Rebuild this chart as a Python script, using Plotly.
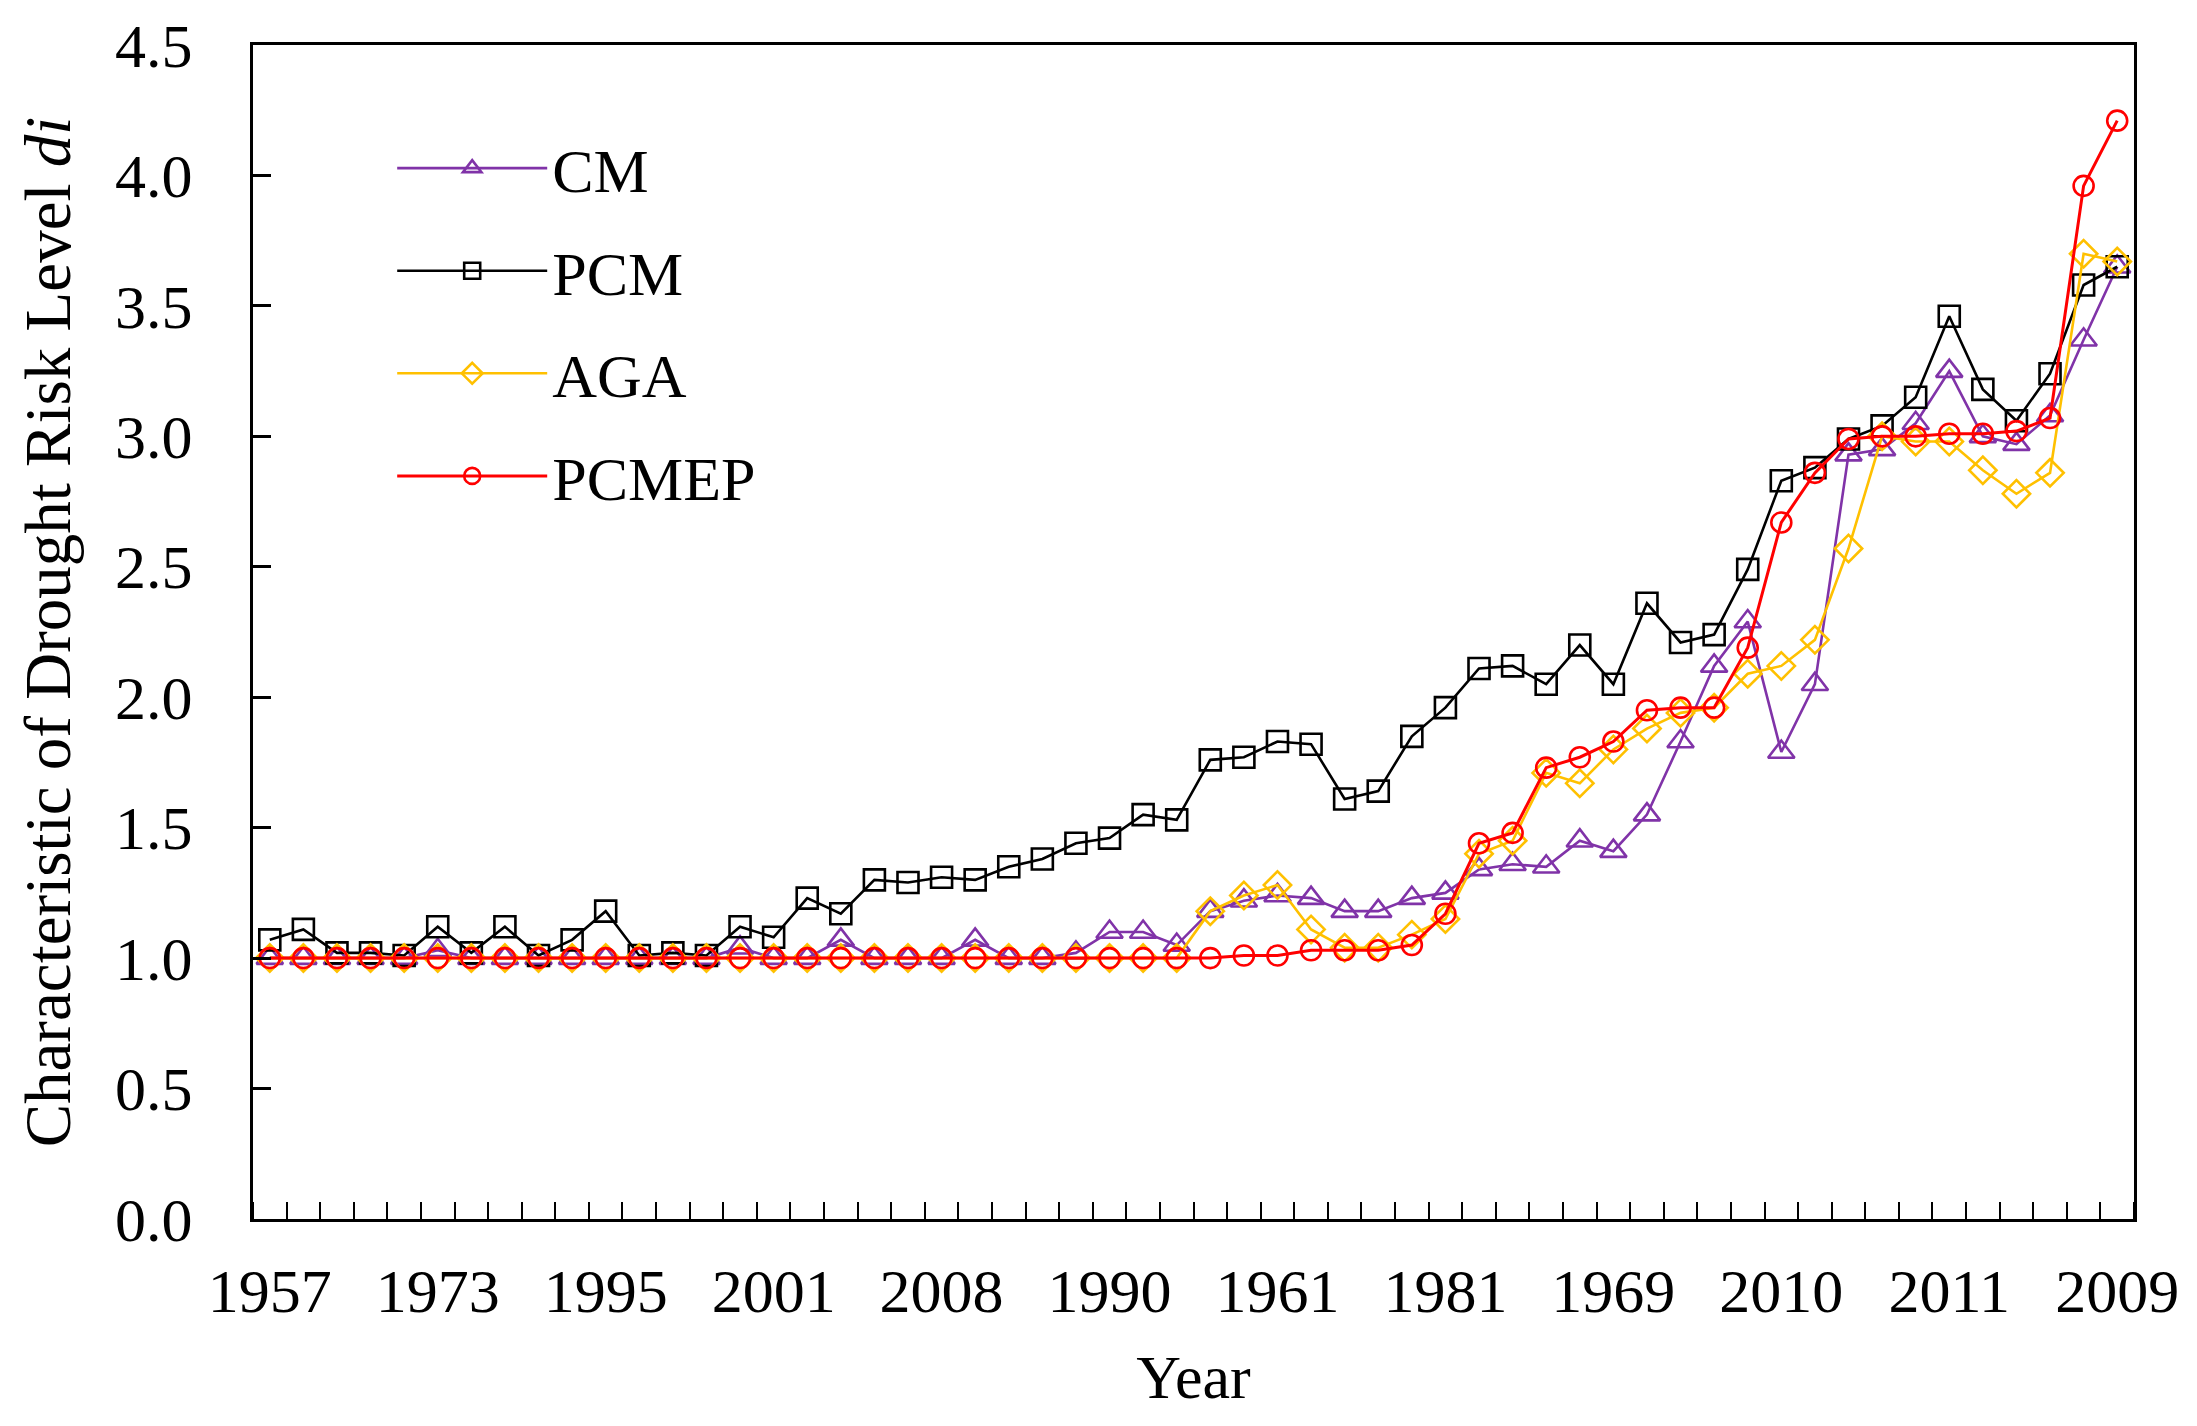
import plotly.graph_objects as go

# ---- data ----
tick_labels = ["1957", "1973", "1995", "2001", "2008", "1990",
               "1961", "1981", "1969", "2010", "2011", "2009"]
n_points = 56

cm = [1.00, 1.00, 1.00, 1.00, 1.00, 1.03, 1.00, 1.00, 1.00, 1.00,
      1.00, 1.00, 1.00, 1.00, 1.04, 1.00, 1.00, 1.07, 1.00, 1.00,
      1.00, 1.07, 1.00, 1.00, 1.02, 1.10, 1.10, 1.05, 1.18, 1.22,
      1.24, 1.23, 1.18, 1.18, 1.23, 1.25, 1.34, 1.36, 1.35, 1.45,
      1.41, 1.55, 1.83, 2.12, 2.29, 1.79, 2.05, 2.93, 2.95, 3.05,
      3.25, 3.00, 2.97, 3.08, 3.37, 3.65]

pcm = [1.07, 1.11, 1.02, 1.02, 1.01, 1.12, 1.02, 1.12, 1.01, 1.07,
       1.18, 1.01, 1.02, 1.01, 1.12, 1.08, 1.23, 1.17, 1.30, 1.29,
       1.31, 1.30, 1.35, 1.38, 1.44, 1.46, 1.55, 1.53, 1.76, 1.77,
       1.83, 1.82, 1.61, 1.64, 1.85, 1.96, 2.11, 2.12, 2.05, 2.20,
       2.05, 2.36, 2.21, 2.24, 2.49, 2.83, 2.88, 2.99, 3.04, 3.15,
       3.46, 3.18, 3.06, 3.24, 3.58, 3.65]

aga = [1.00, 1.00, 1.00, 1.00, 1.00, 1.00, 1.00, 1.00, 1.00, 1.00,
       1.00, 1.00, 1.00, 1.00, 1.00, 1.00, 1.00, 1.00, 1.00, 1.00,
       1.00, 1.00, 1.00, 1.00, 1.00, 1.00, 1.00, 1.00, 1.18, 1.24,
       1.28, 1.11, 1.04, 1.04, 1.09, 1.15, 1.40, 1.45, 1.71, 1.67,
       1.80, 1.88, 1.94, 1.96, 2.09, 2.12, 2.22, 2.57, 3.00, 2.98,
       2.98, 2.87, 2.78, 2.86, 3.70, 3.67]

pcmep = [1.00, 1.00, 1.00, 1.00, 1.00, 1.00, 1.00, 1.00, 1.00, 1.00,
         1.00, 1.00, 1.00, 1.00, 1.00, 1.00, 1.00, 1.00, 1.00, 1.00,
         1.00, 1.00, 1.00, 1.00, 1.00, 1.00, 1.00, 1.00, 1.00, 1.01,
         1.01, 1.03, 1.03, 1.03, 1.05, 1.17, 1.44, 1.48, 1.73, 1.77,
         1.83, 1.95, 1.96, 1.96, 2.19, 2.67, 2.86, 2.99, 3.00, 3.00,
         3.01, 3.01, 3.02, 3.07, 3.96, 4.21]

x_idx = list(range(n_points))
tick_pos = list(range(0, n_points, 5))

FONT = "Liberation Serif"

series = [
    ("CM", cm, "#8033A8", "triangle-up-open", 23),
    ("PCM", pcm, "#000000", "square-open", 21),
    ("AGA", aga, "#FFC000", "diamond-open", 21),
    ("PCMEP", pcmep, "#FF0000", "circle-open", 20),
]

fig = go.Figure()
for name, vals, color, sym, size in series:
    fig.add_trace(go.Scatter(
        x=x_idx, y=vals, name=name, mode="lines+markers",
        legendgroup=name,
        line=dict(color=color, width=3.0 if name == "PCMEP" else 2.6),
        marker=dict(symbol=sym, size=size, color=color,
                    line=dict(color=color, width=2.6)),
    ))

fig.update_layout(
    width=2197, height=1426,
    margin=dict(l=253, r=63, t=40, b=207),
    paper_bgcolor="white", plot_bgcolor="white",
    font=dict(family=FONT, size=62, color="black"),
    showlegend=True,
    legend=dict(
        x=0.074, y=0.935, xanchor="left", yanchor="top",
        bgcolor="rgba(0,0,0,0)", borderwidth=0,
        font=dict(family=FONT, size=62, color="black"),
        traceorder="grouped", tracegroupgap=19,
        itemwidth=150,
    ),
)

fig.update_xaxes(
    range=[-0.5, n_points - 0.5],
    tickmode="array", tickvals=tick_pos, ticktext=tick_labels,
    ticks="", showgrid=False, zeroline=False,
    showline=True, linecolor="black", linewidth=3, mirror=True,
    tickfont=dict(family=FONT, size=62),
    ticklabelstandoff=16,
    minor=dict(tickmode="linear", tick0=0.5, dtick=1, ticks="inside",
               ticklen=17, tickwidth=2, tickcolor="black", showgrid=False),
    title=dict(text="Year", font=dict(family=FONT, size=62), standoff=31),
)

fig.update_yaxes(
    range=[0, 4.5], dtick=0.5, tick0=0, tickformat=".1f",
    ticks="inside", ticklen=18, tickwidth=2.5, tickcolor="black",
    showgrid=False, zeroline=False,
    showline=True, linecolor="black", linewidth=3, mirror=True,
    tickfont=dict(family=FONT, size=62),
    ticklabelstandoff=45,
    title=dict(text="Characteristic of Drought Risk Level <i>di</i>",
               font=dict(family=FONT, size=65), standoff=24),
)

fig.write_html("out.html", config={"displayModeBar": False},
               post_script="document.body.style.margin='0';")
